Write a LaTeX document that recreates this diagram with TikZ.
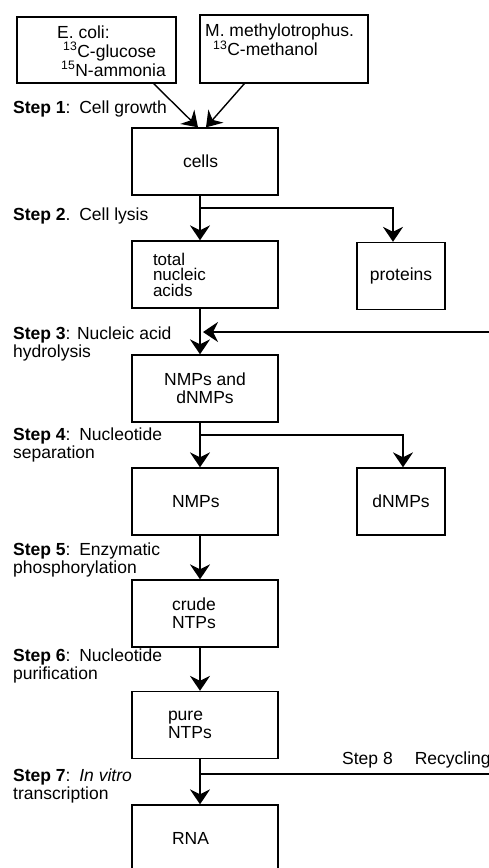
\documentclass[tikz,border=0pt]{standalone}
\usepackage{fontspec}
\setmainfont{Liberation Sans}
\usepackage{tikz}
\usetikzlibrary{arrows.meta,calc}

\begin{document}
\begin{tikzpicture}[x=1pt, y=-1pt,
    box/.style={draw, line width=1.3pt, minimum width=146pt, minimum height=67pt, inner ysep=0pt, align=left, font=\fontsize{17.5}{18}\selectfont},
    pad/.style={inner xsep=#1, text width=146pt-2*#1},
    sidebox/.style={box, minimum width=88pt, minimum height=67pt, inner xsep=0pt},
    boxtext/.style={anchor=west, inner sep=0pt, align=left, font=\fontsize{17.5}{19}\selectfont},
    steplabel/.style={anchor=west, inner sep=0pt, align=left, font=\fontsize{17.5}{18}\selectfont},
    flow/.style={line width=1.4pt},
    arr/.style={flow, -{Stealth[length=15pt, width=20pt, inset=5pt]}}]
    \useasboundingbox (0,0) rectangle (489,868);
    \clip (0,0) rectangle (489,868);

    % Starting material
    \node[box, minimum width=159pt, minimum height=66pt] (ecoli) at (96.5,50) {};
    \node[boxtext] (ecolitext) at (57,51)
        {E. coli:\\ \hspace{6pt}\textsuperscript{13}C-glucose\\ \hspace{4pt}\textsuperscript{15}N-ammonia};
    \node[box, minimum width=168pt, minimum height=68pt] (methyl) at (284,49) {};
    \node[boxtext] (methyltext) at (205,40)
        {M. methylotrophus.\\ \hspace{8pt}\textsuperscript{13}C-methanol};

    % Main column
    \coordinate (trunk) at (200,0);
    \node[box, pad=51pt] (cells)   at (205,161.5) {cells};
    \node[box, pad=21pt, font=\fontsize{17}{15.5}\selectfont] (nucleic) at (205,274.5) {total\\nucleic\\acids};
    \node[box, align=center] (mix) at (205,388.5) {NMPs and\\dNMPs\hspace{12pt}};
    \node[box, pad=40pt] (nmp)     at (205,501.5) {NMPs};
    \node[box, pad=40pt] (crude)   at (205,613.5) {crude\\NTPs};
    \node[box, pad=36pt] (pure)    at (205,725)   {pure\\NTPs};
    \node[box, pad=40pt] (rna)     at (205,838.5) {RNA};

    % Side products
    \node[sidebox] (proteins) at (401,276)   {proteins};
    \node[sidebox] (dnmp)     at (401,501.5) {dNMPs};

    % Steps
    \node[steplabel] (s1) at (13,109) {\textbf{Step 1}:\enspace Cell growth};
    \node[steplabel] (s2) at (13,216) {\textbf{Step 2}.\enspace Cell lysis};
    \node[steplabel] (s3) at (13,344) {\textbf{Step 3}: Nucleic acid\\hydrolysis};
    \node[steplabel] (s4) at (13,445) {\textbf{Step 4}:\enspace Nucleotide\\separation};
    \node[steplabel] (s5) at (13,560) {\textbf{Step 5}:\enspace Enzymatic\\phosphorylation};
    \node[steplabel] (s6) at (13,666) {\textbf{Step 6}:\enspace Nucleotide\\purification};
    \node[steplabel] (s7) at (13,786) {\textbf{Step 7}:\enspace \textit{In vitro}\\transcription};
    \node[steplabel] (s8) at (342,760) {Step 8\hspace{22pt}Recycling};

    % Cell growth
    \draw[arr] ([xshift=-23pt]ecoli.south east) -- ([xshift=-7pt]cells.north);
    \draw[arr] ([xshift=45pt]methyl.south west) -- ([xshift=1pt]cells.north);

    % Lysis and separation branches
    \coordinate (lysis) at (200,208);
    \coordinate (sep) at (200,435);
    \draw[arr] (cells.south -| trunk) -- (nucleic.north -| trunk);
    \draw[arr] (lysis) -| ([xshift=-8pt]proteins.north);
    \draw[arr] (nucleic.south -| trunk) -- (mix.north -| trunk);
    \draw[arr] (mix.south -| trunk) -- (nmp.north -| trunk);
    \draw[arr] (sep) -| ([xshift=2pt]dnmp.north);
    \draw[arr] (nmp.south -| trunk) -- (crude.north -| trunk);
    \draw[arr] (crude.south -| trunk) -- (pure.north -| trunk);
    \draw[arr] (pure.south -| trunk) -- (rna.north -| trunk);

    % Recycling
    \coordinate (recyc) at (200,774);
    \coordinate (edge8) at (489,774);
    \coordinate (edge3) at (489,332);
    \draw[flow] (recyc) -- (edge8);
    \draw[arr] (edge3) -- ([xshift=3pt]edge3 -| trunk);
\end{tikzpicture}
\end{document}
